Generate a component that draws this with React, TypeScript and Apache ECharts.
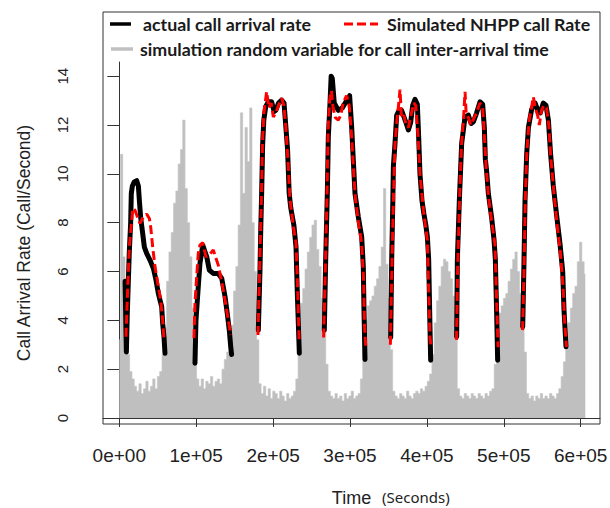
import React, { useEffect, useRef } from 'react';
import * as echarts from 'echarts';

const xTickValues = [0, 100000, 200000, 300000, 400000, 500000, 600000];
const xTickLabels = ['0e+00', '1e+05', '2e+05', '3e+05', '4e+05', '5e+05', '6e+05'];
const yTickValues = [0, 2, 4, 6, 8, 10, 12, 14];

const seriesNames = [
  'actual call arrival rate',
  'Simulated NHPP call Rate',
  'simulation random variable for call inter-arrival time',
];

// gray: simulated inter-arrival random variable, sampled every 3000 s from t = 0
const grayStep = 3000;
const grayValues = [
  3.2, 10.8, 6.6, 4.8, 2.6, 1.9, 1.6, 1.3, 1.1, 1.4, 1.0, 1.2, 1.5, 1.1, 1.3, 1.6, 1.2, 1.7, 1.9, 2.6,
  3.7, 5.6, 6.8, 7.6, 8.8, 9.3, 10.4, 11.0, 12.2, 9.4, 8.0, 6.6, 4.5, 3.0, 1.6, 1.3, 1.6, 1.2, 1.5, 1.4,
  1.7, 1.3, 1.5, 1.6, 1.4, 2.0, 2.4, 2.7, 3.1, 3.8, 5.2, 6.2, 7.9, 12.5, 9.2, 11.9, 10.5, 12.7, 8.0, 6.0,
  3.2, 1.4, 1.0, 1.3, 0.9, 1.2, 0.8, 1.1, 1.0, 0.8, 1.1, 0.9, 0.7, 1.0, 0.8, 0.9, 1.1, 1.6, 3.8, 4.7,
  5.3, 6.1, 6.8, 7.4, 7.9, 8.1, 6.9, 6.2, 4.9, 3.6, 2.2, 1.1, 0.9, 0.8, 1.0, 0.8, 0.9, 0.7, 1.0, 0.8,
  0.9, 1.1, 0.8, 0.9, 1.0, 1.6, 3.2, 4.0, 4.6, 4.8, 5.0, 5.4, 5.7, 6.2, 7.0, 9.4, 6.3, 4.9, 2.8, 1.1,
  0.9, 0.8, 1.0, 0.9, 0.8, 1.1, 0.9, 0.8, 1.0, 1.1, 1.0, 1.2, 1.1, 1.3, 1.5, 1.8, 2.6, 3.9, 4.8, 5.4,
  6.2, 6.5, 6.4, 6.0, 5.7, 5.0, 3.4, 1.2, 0.9, 0.8, 1.0, 0.9, 0.8, 1.0, 0.9, 0.8, 1.0, 0.9, 0.8, 1.0,
  0.9, 1.1, 1.2, 2.2, 3.7, 4.3, 4.6, 4.9, 5.1, 5.6, 6.1, 6.5, 6.8, 6.0, 5.1, 4.2, 2.7, 1.0, 0.8, 0.9,
  0.7, 0.9, 0.8, 1.0, 0.8, 0.9, 0.8, 1.0, 0.9, 0.8, 1.0, 1.2, 1.7, 2.3, 3.1, 3.9, 4.5, 5.1, 5.4, 6.4,
  7.2, 6.4, 5.9,
];

// actual call arrival rate, [time (s), rate]
const actualDay1 = [[7500, 5.6], [9200, 2.7], [10400, 4.3], [11800, 5.65], [13000, 6.8], [14800, 8.0], [15600, 9.2], [17000, 9.5], [19500, 9.67], [22600, 9.72], [24800, 9.5], [26100, 8.9], [27800, 8.2], [30400, 7.56], [32600, 7.0], [35600, 6.74], [39900, 6.47], [44300, 6.13], [47700, 5.65], [50800, 5.1], [52900, 4.83], [55100, 4.56], [56400, 3.88], [58100, 3.33], [59400, 2.65]];
const actualDay2 = [[98400, 2.24], [99700, 4.0], [102700, 5.38], [104900, 6.33], [108500, 7.08], [111400, 6.81], [113700, 6.6], [117000, 6.06], [122200, 5.92], [128700, 5.92], [133200, 5.72], [137500, 4.97], [140400, 4.28], [143000, 3.6], [144900, 2.92], [146000, 2.6]];
const actualDay3 = [[180800, 3.6], [182900, 6.0], [184000, 7.8], [185100, 9.2], [186400, 11.2], [187900, 12.2], [190400, 12.75], [193800, 12.95], [198100, 12.95], [201400, 12.55], [203500, 12.6], [207000, 12.9], [211100, 13.02], [214200, 12.9], [216400, 12.0], [218800, 11.0], [220900, 9.2], [223000, 8.6], [227000, 7.9], [229800, 7.0], [231500, 5.1], [234100, 2.65]];
const actualDay4 = [[266600, 3.6], [268400, 6.5], [270500, 9.2], [271800, 11.5], [274000, 12.9], [275500, 14.0], [277000, 13.9], [279500, 12.9], [284800, 12.6], [290000, 12.7], [295700, 13.0], [299500, 13.2], [302200, 11.9], [304300, 10.56], [306500, 9.2], [310800, 8.24], [315200, 7.42], [317300, 6.2], [318200, 4.42], [319500, 2.4]];
const actualDay5 = [[352900, 3.3], [354200, 6.47], [355700, 8.9], [356400, 10.3], [358500, 11.24], [360700, 12.4], [363800, 12.6], [367100, 12.6], [369400, 12.4], [372800, 12.1], [375900, 11.8], [378900, 12.1], [381500, 12.8], [384500, 13.05], [387600, 12.85], [389300, 11.5], [391000, 10.0], [393600, 8.9], [396000, 8.38], [398600, 7.9], [400600, 7.42], [402300, 6.5], [404000, 3.74], [404900, 2.37]];
const actualDay6 = [[438700, 3.33], [439600, 6.47], [442200, 8.92], [445200, 11.24], [449600, 12.33], [453900, 12.4], [457500, 12.06], [460400, 12.13], [464700, 12.5], [469100, 12.95], [472500, 12.85], [474700, 11.9], [476000, 10.6], [477700, 10.1], [479900, 9.2], [484200, 8.2], [487300, 7.3], [489000, 6.5], [490700, 4.3], [492000, 2.37]];
const actualDay7 = [[524600, 3.74], [526300, 6.47], [527600, 8.92], [529800, 10.83], [532000, 11.9], [536300, 12.65], [540600, 12.9], [544900, 12.55], [547400, 12.5], [551400, 12.9], [554900, 12.8], [558000, 12.2], [560900, 10.8], [564400, 9.5], [568700, 8.3], [573200, 7.1], [576600, 6.0], [578300, 4.42], [580900, 2.92]];

// simulated NHPP call rate, [time (s), rate]
const simDay1 = [[8700, 3.33], [11000, 5.4], [13050, 7.01], [16100, 8.1], [17400, 8.58], [20400, 8.51], [23500, 8.24], [26900, 7.97], [31300, 8.24], [35600, 8.35], [39100, 8.17], [40800, 7.83], [43400, 7.01], [46400, 6.2], [50800, 5.38], [53800, 4.83], [56400, 4.01], [58100, 3.19]];
const simDay2 = [[97100, 3.27], [98400, 4.7], [100600, 5.78], [102700, 6.74], [104900, 7.08], [108500, 7.18], [112700, 6.6], [117500, 6.7], [122200, 6.88], [128700, 6.26], [133200, 5.58], [137500, 4.83], [141700, 4.01], [144900, 3.4]];
const simDay3 = [[180300, 3.4], [182500, 6.1], [184800, 9.0], [186300, 11.4], [188000, 12.5], [191600, 13.36], [194500, 12.7], [197500, 12.9], [200300, 12.33], [203500, 12.5], [207000, 12.8], [211100, 13.1], [214000, 12.8], [216600, 11.9], [219600, 10.4], [221800, 9.0], [226300, 7.83], [229800, 7.2], [231700, 5.5], [233900, 3.1]];
const simDay4 = [[265700, 3.3], [268000, 6.2], [270000, 9.0], [271500, 11.8], [273500, 13.0], [275800, 13.4], [278000, 12.7], [281000, 12.3], [284800, 12.2], [288000, 12.4], [291000, 12.9], [295500, 13.2], [299000, 12.8], [302000, 11.6], [304500, 10.2], [307000, 9.0], [311000, 8.0], [315000, 7.2], [317500, 5.8], [319000, 3.7], [320500, 2.9]];
const simDay5 = [[352500, 3.0], [354500, 6.2], [356500, 9.0], [358500, 11.2], [361000, 12.2], [363500, 12.9], [365000, 13.45], [367000, 12.3], [370000, 12.4], [373000, 12.0], [376000, 11.9], [380000, 12.5], [383000, 12.9], [385500, 12.8], [388500, 11.5], [391000, 10.0], [395500, 8.5], [400500, 7.3], [402000, 5.6], [404000, 3.3], [405500, 2.9]];
const simDay6 = [[438500, 3.2], [440000, 6.2], [442500, 9.0], [445000, 11.2], [447500, 12.2], [449600, 13.36], [451000, 12.5], [454000, 12.3], [457000, 12.0], [460000, 12.2], [464500, 12.5], [469000, 12.9], [472500, 12.7], [474500, 11.7], [477000, 10.3], [480000, 9.1], [484000, 8.1], [488500, 7.1], [490500, 5.0], [492500, 2.9]];
const simDay7 = [[524400, 3.6], [526500, 6.3], [528000, 9.0], [530000, 10.9], [533000, 12.2], [536000, 12.7], [538400, 13.15], [541000, 12.7], [544000, 12.4], [546200, 12.0], [549000, 12.6], [552000, 12.8], [555500, 12.7], [558500, 12.0], [561000, 10.7], [565000, 9.3], [569000, 8.0], [573500, 6.8], [577000, 5.4], [579000, 4.0], [581500, 2.9]];

const actualDays = [actualDay1, actualDay2, actualDay3, actualDay4, actualDay5, actualDay6, actualDay7];
const simDays = [simDay1, simDay2, simDay3, simDay4, simDay5, simDay6, simDay7];

const GRID = { left: 103, top: 62, right: 10, bottom: 84 };
const BOX = { x: 103, y: 12, w: 497, h: 412 };
const TEXT_COLOR = '#222';

export default function App() {
  const ref = useRef<HTMLDivElement>(null);

  useEffect(() => {
    if (!ref.current) return;
    const chart = echarts.init(ref.current, null, { renderer: 'svg' });

    const grayData = grayValues.map((v, i) => [i * grayStep, v]);

    const series: any[] = [
      {
        name: seriesNames[2],
        type: 'line',
        data: grayData,
        step: 'middle',
        symbol: 'none',
        lineStyle: { color: '#c4c4c4', width: 0.6 },
        areaStyle: { color: '#bfbfbf', opacity: 1 },
        z: 1,
      },
    ];
    actualDays.forEach((d) => {
      series.push({
        name: seriesNames[0],
        type: 'line',
        data: d,
        symbol: 'none',
        lineStyle: { color: '#000', width: 5, cap: 'round', join: 'round' },
        z: 2,
      });
    });
    simDays.forEach((d) => {
      series.push({
        name: seriesNames[1],
        type: 'line',
        data: d,
        symbol: 'none',
        lineStyle: { color: '#ff0000', width: 3, type: [9, 4] },
        z: 3,
      });
    });

    const legendFont = { fontFamily: 'Lato', fontWeight: 'bold', fontSize: 17.8, fill: '#1a1a1a' } as any;

    chart.setOption({
      animation: false,
      backgroundColor: '#fff',
      grid: { ...GRID, containLabel: false, outerBoundsMode: 'none' },
      xAxis: {
        type: 'value',
        min: -21200,
        max: 625100,
        splitLine: { show: false },
        axisLine: { show: true, lineStyle: { color: '#333', width: 1 } },
        axisTick: { show: true, length: 9, customValues: xTickValues, lineStyle: { color: '#333' } },
        axisLabel: {
          customValues: xTickValues,
          formatter: (v: number) => xTickLabels[xTickValues.indexOf(v)] ?? '',
          fontFamily: 'Liberation Sans',
          fontSize: 19,
          color: TEXT_COLOR,
          margin: 22,
        },
        name: 'Time',
        nameLocation: 'middle',
        nameGap: 65,
        nameTextStyle: { fontFamily: 'Liberation Sans', fontSize: 18, color: TEXT_COLOR },
      },
      yAxis: {
        type: 'value',
        min: -0.246,
        max: 14.58,
        splitLine: { show: false },
        axisLine: { show: true, lineStyle: { color: '#333', width: 1 } },
        axisTick: { show: true, length: 12, customValues: yTickValues, lineStyle: { color: '#333' } },
        axisLabel: {
          customValues: yTickValues,
          rotate: 90,
          fontFamily: 'Liberation Sans',
          fontSize: 15,
          color: TEXT_COLOR,
          margin: 33,
        },
        name: 'Call Arrival Rate (Call/Second)',
        nameLocation: 'middle',
        nameRotate: 90,
        nameGap: 70,
        nameTextStyle: { fontFamily: 'Liberation Sans', fontSize: 17.5, color: TEXT_COLOR },
      },
      series,
      graphic: [
        {
          type: 'rect',
          shape: { x: BOX.x, y: BOX.y, width: BOX.w, height: BOX.h },
          style: { fill: 'none', stroke: '#333', lineWidth: 1 },
          silent: true,
          z: 10,
        },
        {
          type: 'line',
          shape: { x1: 110, y1: 24, x2: 131, y2: 24 },
          style: { stroke: '#000', lineWidth: 3.5 },
          z: 10,
        },
        {
          type: 'text',
          x: 143,
          y: 24,
          style: { text: seriesNames[0], ...legendFont, verticalAlign: 'middle' },
          z: 10,
        },
        {
          type: 'line',
          shape: { x1: 344, y1: 24, x2: 378, y2: 24 },
          style: { stroke: '#ff0000', lineWidth: 3, lineDash: [9, 4] },
          z: 10,
        },
        {
          type: 'text',
          x: 387,
          y: 24,
          style: { text: seriesNames[1], ...legendFont, verticalAlign: 'middle' },
          z: 10,
        },
        {
          type: 'line',
          shape: { x1: 111, y1: 49, x2: 133, y2: 49 },
          style: { stroke: '#c0c0c0', lineWidth: 3.5 },
          z: 10,
        },
        {
          type: 'text',
          x: 140,
          y: 49,
          style: { text: seriesNames[2], ...legendFont, verticalAlign: 'middle' },
          z: 10,
        },
        {
          type: 'text',
          x: 382,
          y: 497,
          style: {
            text: '(Seconds)',
            fontFamily: 'Noto Sans',
            fontSize: 15,
            fill: TEXT_COLOR,
            verticalAlign: 'middle',
          },
          z: 10,
        },
      ],
    });

    return () => chart.dispose();
  }, []);

  return (
    <div
      ref={ref}
      style={{ position: 'fixed', left: 0, top: 0, width: 610, height: 508, background: '#fff' }}
    />
  );
}
